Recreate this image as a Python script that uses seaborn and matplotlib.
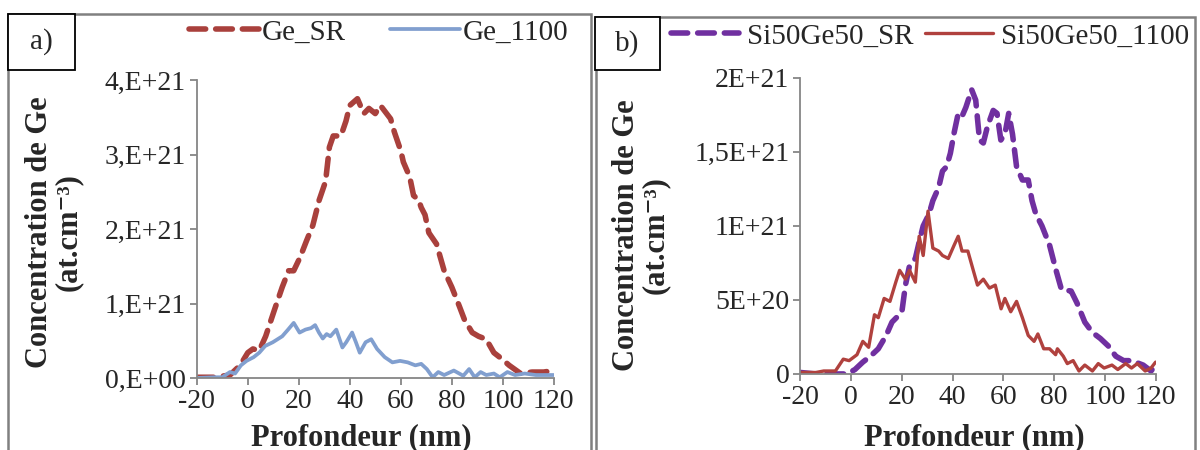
import numpy as np
import pandas as pd
import matplotlib
matplotlib.use("Agg")
import matplotlib.pyplot as plt
import seaborn as sns
from matplotlib.patches import Rectangle

# ---- data (concentration in units of 1E21 at.cm-3) ----
ge_sr_x = [-20, -13, -7, -3, 0, 2, 4.5, 7, 10.5, 13.5, 16, 18, 20.5, 23, 25.5, 28, 30.5, 32, 33.5,
           36.5, 38.5, 40, 43, 45.5, 47.5, 50, 52, 56, 57.5, 60, 61, 63.5, 65, 67, 68, 69.5, 71,
           74, 77, 80, 83, 85, 88, 90.5, 93.5, 96.5, 99.5, 102.5, 107, 111.5, 116, 120]
ge_sr_y = [0.01, 0.01, 0.04, 0.17, 0.34, 0.39, 0.37, 0.56, 0.92, 1.22, 1.44, 1.44, 1.62, 1.84, 2.05,
           2.39, 2.64, 3.10, 3.25, 3.25, 3.45, 3.66, 3.75, 3.55, 3.62, 3.55, 3.66, 3.48, 3.30, 3.05,
           2.90, 2.70, 2.45, 2.39, 2.29, 2.19, 1.95, 1.80, 1.44, 1.22, 0.96, 0.78, 0.61, 0.56, 0.52,
           0.34, 0.26, 0.17, 0.06, 0.08, 0.08, 0.10]

ge_1100_x = [-20, -13, -10, -7, -5, -2.7, -0.5, 2.3, 4.5, 6.8, 9.8, 13.5, 15.8, 18, 20.3, 22.6, 24.8,
             26.4, 27.9, 29.4, 30.9, 32.4, 34.7, 37.1, 38.6, 40.9, 42.4, 43.9, 46.2, 48.4, 50.7,
             53.7, 56.7, 59.7, 62.7, 65.7, 68, 70.2, 72.5, 74.7, 77, 80.8, 84.5, 86.8, 89, 91.3,
             93.5, 96.5, 98.8, 101.8, 104.8, 108.6, 113, 120]
ge_1100_y = [0.0, 0.01, 0.01, 0.08, 0.06, 0.17, 0.23, 0.28, 0.34, 0.43, 0.48, 0.56, 0.65, 0.74, 0.61,
             0.65, 0.67, 0.71, 0.61, 0.53, 0.59, 0.56, 0.65, 0.41, 0.48, 0.61, 0.48, 0.34, 0.48, 0.52,
             0.39, 0.28, 0.21, 0.23, 0.21, 0.17, 0.19, 0.12, 0.01, 0.08, 0.04, 0.10, 0.03, 0.12, 0.01,
             0.08, 0.04, 0.06, 0.01, 0.08, 0.04, 0.06, 0.04, 0.04]

sige_sr_x = [-20, -14, -7.7, -1.6, 1.5, 4.6, 7.6, 10.7, 13.8, 16.1, 18.4, 20, 21.4, 23, 25.3, 26.8,
             28.4, 30.7, 32.2, 34.5, 36, 37.6, 39.1, 40.6, 42.2, 43.7, 45.2, 47.5, 49.1, 50.6, 52.1,
             53.7, 56, 57.5, 59, 60.6, 62.1, 63.6, 65.2, 67.5, 69.8, 71.3, 72.8, 75.2, 78.2, 80.6,
             82.9, 86.7, 89, 92.1, 95.1, 98.2, 101.3, 104.3, 107.4, 110.5, 115.1, 118.2, 120]
sige_sr_y = [0.01, 0.0, 0.0, 0.0, 0.03, 0.08, 0.12, 0.17, 0.26, 0.35, 0.39, 0.42, 0.60, 0.73, 0.78,
             0.89, 1.00, 1.08, 1.17, 1.26, 1.37, 1.40, 1.49, 1.63, 1.76, 1.74, 1.80, 1.92, 1.85, 1.58,
             1.56, 1.67, 1.78, 1.76, 1.58, 1.62, 1.76, 1.62, 1.40, 1.31, 1.31, 1.17, 1.08, 1.00, 0.87,
             0.71, 0.57, 0.56, 0.48, 0.35, 0.28, 0.24, 0.19, 0.12, 0.09, 0.09, 0.06, 0.02, 0.06]

sige_1100_x = [-20, -13.9, -10.8, -6.2, -3.1, -0.8, 2.3, 4.6, 6.9, 9.2, 10.7, 13, 15.3, 17.6, 19.1,
               21.4, 23, 25.3, 26.8, 28.4, 30.3, 32.2, 34.5, 36, 38.3, 40.6, 42.2, 43.7, 46, 48.3,
               49.8, 52.1, 54.5, 56.8, 59.1, 60.6, 62.9, 65.2, 67.5, 69.8, 72.1, 73.6, 75.9, 78.2,
               80.6, 81.3, 83.6, 85.2, 87.5, 89.8, 92.1, 95.1, 97.4, 99.7, 102.8, 105.1, 108.2,
               110.5, 112.8, 115.9, 118.2, 120]
sige_1100_y = [0.01, 0.01, 0.02, 0.02, 0.10, 0.09, 0.13, 0.22, 0.18, 0.40, 0.38, 0.51, 0.49, 0.62,
               0.70, 0.64, 0.70, 0.62, 0.93, 0.80, 1.10, 0.85, 0.83, 0.80, 0.78, 0.87, 0.93, 0.83,
               0.83, 0.69, 0.60, 0.64, 0.58, 0.60, 0.44, 0.51, 0.42, 0.49, 0.38, 0.26, 0.22, 0.27,
               0.17, 0.17, 0.13, 0.17, 0.12, 0.07, 0.09, 0.02, 0.06, 0.02, 0.07, 0.04, 0.06, 0.03,
               0.07, 0.04, 0.07, 0.02, 0.04, 0.08]

x_ticks = [-20, 0, 20, 40, 60, 80, 100, 120]
a_yticks = [0, 1e21, 2e21, 3e21, 4e21]
a_ylabels = ["0,E+00", "1,E+21", "2,E+21", "3,E+21", "4,E+21"]
b_yticks = [0, 5e20, 1e21, 1.5e21, 2e21]
b_ylabels = ["0", "5E+20", "1E+21", "1,5E+21", "2E+21"]

sns.set_style("white")
plt.rcParams['font.family'] = ['Liberation Serif', 'DejaVu Serif']

FS = 20       # tick labels
FS_LEG = 21   # legend
FS_LAB = 22   # axis titles
GRAY = '#868686'

fig = plt.figure(figsize=(12, 4.5), dpi=100)
ax_a = fig.add_axes([0.164, 0.16, 0.2975, 0.662])
ax_b = fig.add_axes([0.667, 0.169, 0.296, 0.658])


def draw(ax, xs, ys, **kw):
    df = pd.DataFrame({'x': xs, 'y': np.array(ys) * 1e21})
    sns.lineplot(data=df, x='x', y='y', ax=ax, estimator=None, sort=False, **kw)


draw(ax_a, ge_sr_x, ge_sr_y, color='#A9403C', lw=4.0, linestyle=(0, (3, 1.8)),
     dash_capstyle='round', label='Ge_SR')
draw(ax_a, ge_1100_x, ge_1100_y, color='#819FCF', lw=2.7, label='Ge_1100')
draw(ax_b, sige_sr_x, sige_sr_y, color='#7030A0', lw=4.0, linestyle=(0, (3, 1.8)),
     dash_capstyle='round', label='Si50Ge50_SR')
draw(ax_b, sige_1100_x, sige_1100_y, color='#B0413E', lw=2.4, label='Si50Ge50_1100')

for ax, yt, yl in [(ax_a, a_yticks, a_ylabels), (ax_b, b_yticks, b_ylabels)]:
    ax.set_xlim(-20, 120)
    ax.set_ylim(yt[0], yt[-1])
    ax.set_xticks(x_ticks)
    ax.set_xticklabels([str(t) for t in x_ticks])
    ax.set_yticks(yt)
    ax.set_yticklabels(yl)
    for s in ['top', 'right']:
        ax.spines[s].set_visible(False)
    for s in ['left', 'bottom']:
        ax.spines[s].set_color(GRAY)
        ax.spines[s].set_linewidth(1.3)
    ax.tick_params(axis='both', direction='out', length=5, width=1.3, color=GRAY,
                   labelsize=FS, pad=3, left=True, bottom=True)
    ax.set_xlabel('Profondeur (nm)', fontsize=FS_LAB, fontweight='bold')
    ax.set_ylabel('Concentration de Ge\n(at.cm\u207b\u00b3)', fontsize=FS_LAB,
                  fontweight='bold', linespacing=1.0)
    ax.xaxis.label.set_va('center')
    ax.yaxis.label.set_va('center')
    ax.patch.set_alpha(0)

ax_a.xaxis.set_label_coords(0.46, -0.2)
ax_a.yaxis.set_label_coords(-0.40, 0.49)
ax_b.xaxis.set_label_coords(0.49, -0.215)
ax_b.yaxis.set_label_coords(-0.45, 0.47)

ax_a.legend(loc='center', bbox_to_anchor=(0.51, 1.16), ncol=2, frameon=False, fontsize=FS_LEG,
            handlelength=2.4, handletextpad=0.1, columnspacing=1.5)
ax_b.legend(loc='center', bbox_to_anchor=(0.366, 1.14), ncol=2, frameon=False, fontsize=FS_LEG,
            handlelength=2.3, handletextpad=0.3, columnspacing=0.4)

# panel frames and labels
W, H = 1200, 450
fig.add_artist(Rectangle((8 / W, -0.02), 583 / W, 1.02 - 14 / H, transform=fig.transFigure,
                         fill=False, edgecolor='#808080', lw=1.8))
fig.add_artist(Rectangle((596 / W, -0.02), 599 / W, 1.02 - 17 / H, transform=fig.transFigure,
                         fill=False, edgecolor='#808080', lw=1.8))
for (x0, y0, w, h, t) in [(8, 14, 67, 56, 'a)'), (595, 17, 65, 53, 'b)')]:
    fig.add_artist(Rectangle((x0 / W, 1 - (y0 + h) / H), w / W, h / H, transform=fig.transFigure,
                             facecolor='white', edgecolor='black', lw=1.3))
    fig.text((x0 + w / 2) / W, 1 - (y0 + h / 2) / H, t, fontsize=FS_LEG, ha='center', va='center')

fig.savefig('out.png', dpi=100)
